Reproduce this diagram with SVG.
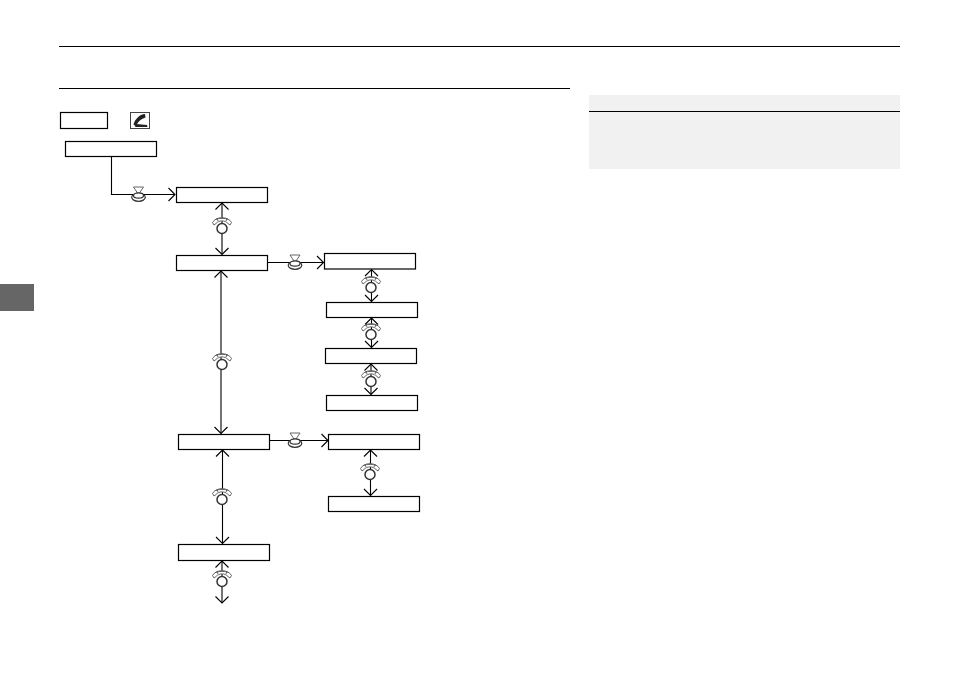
<svg xmlns="http://www.w3.org/2000/svg" xmlns:xlink="http://www.w3.org/1999/xlink" width="954" height="673" viewBox="0 0 954 673">
<style>
.box{fill:#fff;stroke:#000;stroke-width:1.2}
.rule{stroke:#000;stroke-width:1;fill:none}
.c{stroke:#000;stroke-width:1.1;fill:none}
.ring{stroke:#333;stroke-width:1.5;fill:#fff}
.icn{stroke:#555;stroke-width:.9;fill:#fff}
.btn{stroke:#333;stroke-width:1.2;fill:#fff}
</style>
<defs>
<marker id="a" markerUnits="userSpaceOnUse" markerWidth="14" markerHeight="14" refX="11" refY="7" orient="auto-start-reverse" overflow="visible">
<path d="M4.500 .5 L11 7 L4.500 13.500" fill="none" stroke="#000" stroke-width="1.1"/>
</marker>
<g id="dial">
<path class="icn" d="M-9.500 -3.500 C-6 -10 6 -10 9.500 -3.500 L8 -1 L6 -2.500 C3 -6 -3 -6 -6 -2.500 L-8 -1 Z"/>
<path class="icn" d="M-6.500 -6.500 C-3 -8 3 -8 6.500 -6.500 M-4 -5 L-5 -7.500 M4 -5 L5 -7.500" fill="none"/>
<circle class="ring" cx="0" cy="2.500" r="5"/>
</g>
<g id="press">
<path class="icn" d="M-5 -6.500 L5 -6.500 L0 1 Z"/>
<ellipse class="btn" cx="0" cy="3.800" rx="6.800" ry="4"/>
<ellipse class="btn" cx="0" cy="2" rx="5" ry="2.600"/>
</g>
</defs>
<rect width="954" height="673" fill="#fff"/>
<path class="rule" d="M59 46.500H900M59 88.500H570"/>
<rect id="sidetab" x="0" y="284" width="34" height="27" fill="#666"/>
<g id="note">
<rect x="589" y="95" width="311" height="74" fill="#f1f1f1"/>
<path class="rule" d="M589 111.500H900"/>
</g>
<g id="connectors">
<path class="c" marker-end="url(#a)" d="M111.500 157V194.500H175"/>
<path class="c" marker-start="url(#a)" marker-end="url(#a)" d="M222 203V254.500"/>
<path class="c" marker-end="url(#a)" d="M268 262.500H323.500"/>
<path class="c" marker-start="url(#a)" marker-end="url(#a)" d="M221 271V433.500"/>
<path class="c" marker-start="url(#a)" marker-end="url(#a)" d="M371.500 269.500V301.500"/>
<path class="c" marker-start="url(#a)" marker-end="url(#a)" d="M371.500 318V347.500"/>
<path class="c" marker-start="url(#a)" marker-end="url(#a)" d="M371 364V394.500"/>
<path class="c" marker-end="url(#a)" d="M270 440.500H328"/>
<path class="c" marker-start="url(#a)" marker-end="url(#a)" d="M222.500 450V543.500"/>
<path class="c" marker-start="url(#a)" marker-end="url(#a)" d="M370.500 450V495.500"/>
<path class="c" marker-start="url(#a)" marker-end="url(#a)" d="M222 561V603"/>
</g>
<g id="controls">
<use xlink:href="#press" href="#press" x="138.500" y="193.500"/>
<use xlink:href="#press" href="#press" x="295" y="261.500"/>
<use xlink:href="#press" href="#press" x="295" y="439.500"/>
<use xlink:href="#dial" href="#dial" x="222" y="226"/>
<use xlink:href="#dial" href="#dial" x="222" y="362"/>
<use xlink:href="#dial" href="#dial" x="371" y="285"/>
<use xlink:href="#dial" href="#dial" x="371" y="332"/>
<use xlink:href="#dial" href="#dial" x="371" y="379"/>
<use xlink:href="#dial" href="#dial" x="222" y="497"/>
<use xlink:href="#dial" href="#dial" x="370" y="472"/>
<use xlink:href="#dial" href="#dial" x="222" y="579"/>
</g>
<g id="n1"><rect class="box" x="60.500" y="112.500" width="47" height="16"/></g>
<g id="n2">
<rect x="130.500" y="112.500" width="19" height="16" fill="#fff" stroke="#444" stroke-width="1"/>
<path d="M145 114C139.500 114.500 135 119 133.500 124.500L136 126.500C137 123.500 139 120.500 142 119L145.500 117.500Z" fill="#222"/>
<path d="M136.500 124L147 125L147.500 127L135 127Z" fill="#222"/>
</g>
<g id="n3"><rect class="box" x="65.500" y="141.500" width="91" height="15"/></g>
<g id="n4"><rect class="box" x="176.500" y="187.500" width="91" height="15"/></g>
<g id="n5"><rect class="box" x="176.500" y="255.500" width="91" height="15"/></g>
<g id="n6"><rect class="box" x="324.500" y="253.500" width="91" height="15.500"/></g>
<g id="n7"><rect class="box" x="326.500" y="302.500" width="91" height="15"/></g>
<g id="n8"><rect class="box" x="325.500" y="348.500" width="91" height="15"/></g>
<g id="n9"><rect class="box" x="326.500" y="395.500" width="91" height="15"/></g>
<g id="n10"><rect class="box" x="178.500" y="434.500" width="91" height="15"/></g>
<g id="n11"><rect class="box" x="328.500" y="434.500" width="91" height="15"/></g>
<g id="n12"><rect class="box" x="328.500" y="496.500" width="91" height="15"/></g>
<g id="n13"><rect class="box" x="178.500" y="544.500" width="91" height="16"/></g>
</svg>
